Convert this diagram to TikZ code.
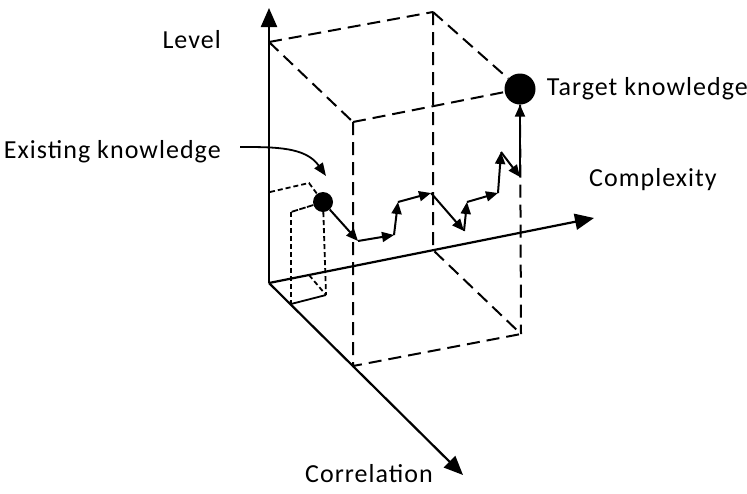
\documentclass[tikz,border=0pt]{standalone}
\usepackage{fontspec}
\setmainfont{Carlito}[LetterSpace=4]
\usepackage{tikz}
\usetikzlibrary{positioning,arrows.meta}

\begin{document}
\begin{tikzpicture}[x=1pt, y=-1pt,
  axis/.style={line width=2.2pt, -{Triangle[length=19pt,width=16pt]}},
  edge/.style={line width=2pt, dash pattern=on 13pt off 7pt},
  smalledge/.style={line width=1.8pt, dash pattern=on 5pt off 3pt},
  stepline/.style={line width=2pt, -{Triangle[length=12pt,width=10pt]}},
  knot/.style={circle, fill=black, inner sep=0pt},
  lbl/.style={font=\fontsize{26}{30}\selectfont, inner sep=0pt}
]
\useasboundingbox (0,0) rectangle (747,493);

% axes
\coordinate (O) at (269,283);
\coordinate (levtip) at (269,8);
\coordinate (comptip) at (594,218);
\coordinate (corrtip) at (463,475);

% big box
\coordinate (A) at (269,42);
\coordinate (B) at (433,12);
\coordinate (C) at (353,122);
\coordinate (E) at (433,250);
\coordinate (F) at (353,366);
\coordinate (G) at (521,334);

% small box
\coordinate (a) at (270,192);
\coordinate (b) at (309,183);
\coordinate (c) at (291,212);
\coordinate (e) at (309,275);
\coordinate (f) at (291,304);
\coordinate (g) at (326,295);

% steps
\coordinate (s1) at (358,241);
\coordinate (s2) at (394,235);
\coordinate (s3) at (398,202);
\coordinate (s4) at (431,193);
\coordinate (s5) at (464,231);
\coordinate (s6) at (467,202);
\coordinate (s7) at (498,193);
\coordinate (s8) at (501,152);
\coordinate (s9) at (520,177);

\node[knot, minimum size=31pt] (target) at (520,89) {};
\node[knot, minimum size=20pt] (exist) at (323,202) {};

\node[lbl, anchor=east] (levellbl) at (221,40) {Level};
\node[lbl, anchor=east] (existlbl) at (221,152) {Existing knowledge};
\node[lbl, right=11pt of target] (targetlbl) {Target knowledge};
\node[lbl, anchor=west] (complbl) at (589,180) {Complexity};
\node[lbl] (corrlbl) at (369,474) {Correlation};

\draw[edge] (A) -- (B);
\draw[edge] (A) -- (C);
\draw[edge] (B) -- (target);
\draw[edge] (C) -- (target);
\draw[edge] (B) -- (E) -- (G);
\draw[edge] (C) -- (F) -- (G);
\draw[edge] (target) -- (G);

\draw[smalledge] (a) -- (b) -- (exist) -- (c) -- cycle;
\draw[smalledge] (c) -- (f);
\draw[smalledge] (exist) -- (g);
\draw[smalledge] (e) -- (g);
\draw[line width=1.8pt] (f) -- (g);

\draw[axis] (O) -- (levtip);
\draw[axis] (O) -- (comptip);
\draw[axis] (O) -- (corrtip);

\coordinate (k1) at (240,147);
\coordinate (k2) at (326,176);
\draw[line width=1.8pt, -{Triangle[length=13pt,width=10pt]}] (k1) to[out=0, in=125] (k2);

\draw[stepline] (exist) -- (s1);
\draw[stepline] (s1) -- (s2);
\draw[stepline] (s2) -- (s3);
\draw[stepline] (s3) -- (s4);
\draw[stepline] (s4) -- (s5);
\draw[stepline] (s5) -- (s6);
\draw[stepline] (s6) -- (s7);
\draw[stepline] (s7) -- (s8);
\draw[stepline] (s8) -- (s9);
\draw[stepline] (s9) -- (target);
\end{tikzpicture}
\end{document}
